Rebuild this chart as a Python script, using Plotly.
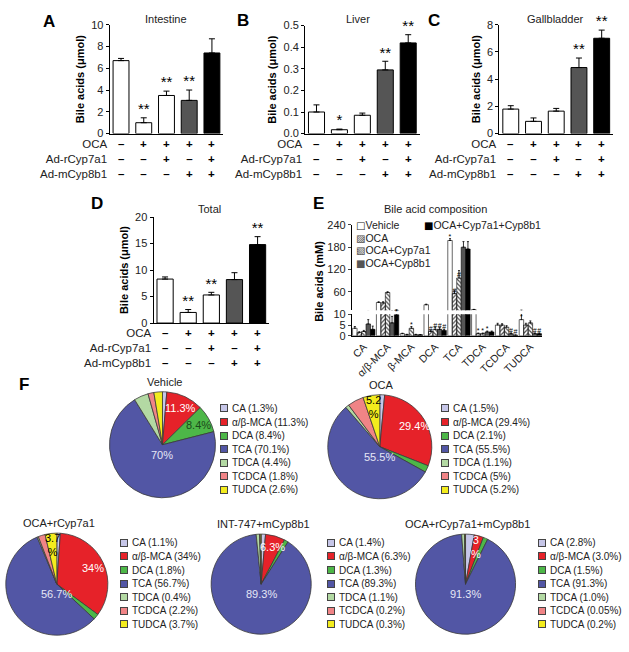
import math
import plotly.graph_objects as go

W, H = 629, 652
FONT = "Liberation Sans, Arial, sans-serif"

# ---------------- data ----------------
oca_row = ["–", "+", "+", "+", "+"]
cyp7a1_row = ["–", "–", "+", "–", "+"]
cyp8b1_row = ["–", "–", "–", "+", "+"]
row_labels = ["OCA", "Ad-rCyp7a1", "Ad-mCyp8b1"]

intestine_mean = [6.7, 1.0, 3.5, 3.05, 7.4]
intestine_err = [0.2, 0.45, 0.4, 0.95, 1.3]
intestine_sig = ["", "**", "**", "**", ""]

liver_mean = [0.10, 0.018, 0.085, 0.295, 0.42]
liver_err = [0.033, 0.003, 0.01, 0.04, 0.038]
liver_sig = ["", "*", "", "**", "**"]

gallbladder_mean = [1.8, 0.9, 1.65, 4.85, 7.0]
gallbladder_err = [0.25, 0.25, 0.2, 0.7, 0.6]
gallbladder_sig = ["", "", "", "**", "**"]

total_mean = [8.3, 2.0, 5.3, 8.2, 14.8]
total_err = [0.4, 0.55, 0.5, 1.3, 1.5]
total_sig = ["", "**", "**", "", "**"]

comp_groups = ["Vehicle", "OCA", "OCA+Cyp7a1", "OCA+Cyp8b1", "OCA+Cyp7a1+Cyp8b1"]
ba_species = ["CA", "α/β-MCA", "β-MCA", "DCA", "TCA", "TDCA", "TCDCA", "TUDCA"]
comp_vehicle = [3.5, 31, 1.0, 25, 198, 12, 5.0, 7.5]
comp_vehicle_err = [0.8, 2, 0.2, 1.5, 5, 0.5, 0.8, 3]
comp_vehicle_sig = ["", "", "", "", "*", "", "", "*"]
comp_oca = [1.5, 30, 0.5, 2.0, 55, 1.0, 5.0, 5.0]
comp_oca_err = [0.4, 3, 0.2, 0.6, 8, 0.3, 0.6, 0.8]
comp_oca_sig = ["", "", "", "#", "#", "*", "", ""]
comp_cyp7 = [2.0, 58, 3.5, 3.0, 97, 1.0, 4.0, 6.0]
comp_cyp7_err = [0.5, 2, 0.8, 1.0, 20, 0.3, 0.7, 0.9]
comp_cyp7_sig = ["", "", "*", "#", "#", "*", "", ""]
comp_cyp8 = [5.5, 6.0, 0.5, 3.0, 180, 1.8, 1.0, 1.0]
comp_cyp8_err = [2.0, 3.0, 0.2, 0.8, 15, 0.4, 0.3, 0.3]
comp_cyp8_sig = ["", "", "", "#", "", "*", "#", "#"]
comp_triple = [3.0, 9.8, 0.5, 2.5, 175, 1.8, 0.3, 1.0]
comp_triple_err = [1.5, 1.0, 0.1, 0.5, 20, 0.4, 0.1, 0.3]
comp_triple_sig = ["", "*", "", "#", "", "", "#", "#"]

pie_species = ["CA", "α/β-MCA", "DCA", "TCA", "TDCA", "TCDCA", "TUDCA"]
pie_titles = ["Vehicle", "OCA", "OCA+rCyp7a1", "INT-747+mCyp8b1", "OCA+rCyp7a1+mCyp8b1"]
pct_vehicle = [1.3, 11.3, 8.4, 70.1, 4.4, 1.8, 2.6]
pct_oca = [1.5, 29.4, 2.1, 55.5, 1.1, 5, 5.2]
pct_oca_cyp7 = [1.1, 34, 1.8, 56.7, 0.4, 2.2, 3.7]
pct_int_cyp8 = [1.4, 6.3, 1.3, 89.3, 1.1, 0.2, 0.3]
pct_triple = [2.8, 3.0, 1.5, 91.3, 1.0, 0.05, 0.2]
inlabel_vehicle = ["", "11.3%", "8.4%", "70%", "", "", ""]
inlabel_oca = ["", "29.4%", "", "55.5%", "", "", "5.2<br>%"]
inlabel_oca_cyp7 = ["", "34%", "", "56.7%", "", "", "3.7<br>%"]
inlabel_int_cyp8 = ["", "6.3%", "", "89.3%", "", "", ""]
inlabel_triple = ["", "3<br>%", "", "91.3%", "", "", ""]

# ---------------- styles ----------------
bar_fill = ["white", "white", "white", "#555555", "black"]
bar_shape = ["", "/", "\\", "", ""]
bar_psize = [5, 5, 3.5, 5, 5]
pie_colors = ["#c6c6e8", "#e62229", "#4db748", "#5256a5", "#b3d9a3", "#f08486", "#f3ec1d"]
pie_textcolors = ["black", "white", "#1a4a1a", "#e6e6f6", "black", "black", "black"]


def px(X):
    return X / W


def py(Y):
    return 1 - Y / H


def ydom(top, bottom):
    return [py(bottom), py(top)]


def note(X, Y, text, size=11, color="#222", xanchor="center", yanchor="middle", **kw):
    d = dict(x=px(X), y=py(Y), xref="paper", yref="paper", text=text, showarrow=False,
             xanchor=xanchor, yanchor=yanchor, font=dict(size=size, family=kw.pop("family", FONT), color=color))
    d.update(kw)
    return d


fig = go.Figure()
annotations = []

# ---------------- panels A-D ----------------
panels = [
    dict(ax="", mean=intestine_mean, err=intestine_err, sig=intestine_sig, xd=(108, 222), yd=(19, 130),
         rng=[0, 10], dt=2, fmt="", title="Intestine", tpos=(165, 13), letter="A", lpos=(47, 16)),
    dict(ax="2", mean=liver_mean, err=liver_err, sig=liver_sig, xd=(304, 419), yd=(20, 130),
         rng=[0, 0.5], dt=0.1, fmt=".1f", title="Liver", tpos=(357, 13), letter="B", lpos=(242, 15)),
    dict(ax="3", mean=gallbladder_mean, err=gallbladder_err, sig=gallbladder_sig, xd=(499, 613), yd=(19, 130),
         rng=[0, 8], dt=2, fmt="", title="Gallbladder", tpos=(555, 13), letter="C", lpos=(433, 15)),
    dict(ax="4", mean=total_mean, err=total_err, sig=total_sig, xd=(152, 268), yd=(215, 323),
         rng=[0, 20], dt=5, fmt="", title="Total", tpos=(208, 207), letter="D", lpos=(95, 201)),
]

cats = list(range(5))
sign_cols = [f"<b>{a}</b><br><b>{b}</b><br><b>{c}</b>" for a, b, c in zip(oca_row, cyp7a1_row, cyp8b1_row)]

layout_axes = {}
for p in panels:
    a = p["ax"]
    fig.add_trace(go.Bar(
        x=cats, y=p["mean"], width=0.7, xaxis="x" + a, yaxis="y" + a,
        marker=dict(color=bar_fill, line=dict(color="black", width=1),
                    pattern=dict(shape=bar_shape, fgcolor="#4a4a4a", size=bar_psize, solidity=0.35,
                                 fillmode="replace")),
        error_y=dict(type="data", array=p["err"], arrayminus=[0] * 5, symmetric=False,
                     color="black", thickness=1, width=3),
        showlegend=False, hoverinfo="skip"))
    fig.add_trace(go.Scatter(
        x=cats, y=[m + e for m, e in zip(p["mean"], p["err"])], text=p["sig"], mode="text",
        textposition="top center", textfont=dict(size=15, family=FONT, color="black"),
        xaxis="x" + a, yaxis="y" + a, cliponaxis=False, showlegend=False, hoverinfo="skip"))
    vals = []
    v = p["rng"][0]
    while v <= p["rng"][1] + 1e-9:
        vals.append(round(v, 3))
        v += p["dt"]
    layout_axes["xaxis" + a] = dict(
        domain=[px(p["xd"][0]), px(p["xd"][1])], range=[-0.5, 4.5], anchor="y" + a,
        showline=True, linecolor="black", linewidth=1, ticks="", showticklabels=False,
        showgrid=False, zeroline=False)
    layout_axes["yaxis" + a] = dict(
        domain=ydom(*p["yd"]), range=p["rng"], anchor="x" + a, showline=True, linecolor="black",
        linewidth=1, ticks="outside", ticklen=3, tickcolor="black", tickvals=vals, tickformat=p["fmt"],
        tickfont=dict(size=11, family=FONT, color="#222"), showgrid=False, zeroline=False,
        title=dict(text="<b>Bile acids (μmol)</b>", font=dict(size=11, family=FONT, color="black"),
                   standoff=4))
    # +/- treatment table under the bars, one column per bar (x in data units)
    for c, col in zip(cats, sign_cols):
        annotations.append(dict(x=c, xref="x" + a, y=py(p["yd"][1] + 2), yref="paper", text=col,
                                showarrow=False, xanchor="center", yanchor="top",
                                font=dict(size=11.5, family=FONT, color="black")))
    annotations.append(note(p["tpos"][0], p["tpos"][1], p["title"]))
    annotations.append(note(p["lpos"][0], p["lpos"][1], "<b>" + p["letter"] + "</b>", size=17, color="black"))
    annotations.append(note(p["xd"][0] - 1, p["yd"][1] + 2, "<br>".join(row_labels), size=11.5,
                            xanchor="right", yanchor="top", align="right"))

# ---------------- panel E ----------------
comp_series = [
    (comp_vehicle, comp_vehicle_err, comp_vehicle_sig), (comp_oca, comp_oca_err, comp_oca_sig),
    (comp_cyp7, comp_cyp7_err, comp_cyp7_sig), (comp_cyp8, comp_cyp8_err, comp_cyp8_sig),
    (comp_triple, comp_triple_err, comp_triple_sig)]
for yax, lower in [("y5", True), ("y6", False)]:
    for i, (vals_, errs_, sig_) in enumerate(comp_series):
        txt = [s if ((v < 10) == lower) else "" for s, v in zip(sig_, vals_)]
        fig.add_trace(go.Bar(
            x=ba_species, y=vals_, name=comp_groups[i], xaxis="x5", yaxis=yax,
            text=txt, textposition="outside", constraintext="none", cliponaxis=False,
            outsidetextfont=dict(size=7, family=FONT, color="black"),
            marker=dict(color=bar_fill[i], line=dict(color="black", width=0.6),
                        pattern=dict(shape=bar_shape[i], fgcolor="#4a4a4a", size=3, solidity=0.4,
                                     fillmode="replace")),
            error_y=dict(type="data", array=errs_, arrayminus=[0] * 8, symmetric=False,
                         color="black", thickness=0.8, width=1),
            showlegend=False, hoverinfo="skip"))

Exd = (351, 542)
layout_axes["xaxis5"] = dict(
    domain=[px(Exd[0]), px(Exd[1])], anchor="y5", showline=True, linecolor="black", linewidth=1,
    ticks="", tickangle=-45, tickfont=dict(size=10.5, family=FONT, color="#222"), showgrid=False,
    zeroline=False, categoryorder="array", categoryarray=ba_species)
layout_axes["yaxis5"] = dict(
    domain=ydom(314, 336), range=[0, 10], anchor="x5", showline=True, linecolor="black", linewidth=1,
    ticks="outside", ticklen=3, tickvals=[0, 5, 10], tickfont=dict(size=11, family=FONT, color="#222"),
    showgrid=False, zeroline=False)
layout_axes["yaxis6"] = dict(
    domain=ydom(223, 310), range=[10, 240], anchor="x5", showline=True, linecolor="black", linewidth=1,
    ticks="outside", ticklen=3, tickvals=[60, 120, 180, 240],
    tickfont=dict(size=11, family=FONT, color="#222"), showgrid=False, zeroline=False)

annotations.append(note(318, 280, "<b>Bile acids (mM)</b>", color="black", textangle=-90))
annotations.append(note(435, 207, "Bile acid composition"))
annotations.append(note(318, 201, "<b>E</b>", size=17, color="black"))

e_swatch = ["□", "▨", "▧", "■", "■"]
e_swatch_col = ["#222", "#444", "#444", "#555555", "black"]
e_pos = [(353, 223), (353, 236), (353, 249), (353, 262), (421, 223)]
for i, g in enumerate(comp_groups):
    annotations.append(note(e_pos[i][0], e_pos[i][1],
                            f"<span style='font-family:DejaVu Sans;font-size:10px;color:{e_swatch_col[i]}'>{e_swatch[i]}</span>{g}",
                            size=10.5, xanchor="left"))

# ---------------- panel F (pies) ----------------
pie_pcts = [pct_vehicle, pct_oca, pct_oca_cyp7, pct_int_cyp8, pct_triple]
pie_inlabels = [inlabel_vehicle, inlabel_oca, inlabel_oca_cyp7, inlabel_int_cyp8, inlabel_triple]
pie_geom = [  # center x, center y, radius, legend swatch centre x, legend first row y
    (161, 447, 54, 223, 410),
    (379, 449, 53, 444, 410),
    (55, 589, 52, 122, 547),
    (260, 589, 51, 330, 547),
    (465, 589, 51, 542, 547),
]
annotations.append(note(22, 386, "<b>F</b>", size=17, color="black"))
for k in range(5):
    cx, cy, r, lx, ly = pie_geom[k]
    vals_k = pie_pcts[k]
    fig.add_trace(go.Pie(
        labels=pie_species, values=vals_k, textinfo="none", sort=False, direction="clockwise",
        rotation=0, marker=dict(colors=pie_colors, line=dict(color="#3a3a3a", width=0.8)),
        domain=dict(x=[px(cx - r), px(cx + r)], y=ydom(cy - r, cy + r)),
        showlegend=False, hoverinfo="skip"))
    # slice labels placed from the data (mid-angle of each slice)
    total = sum(vals_k)
    cum = 0.0
    for j, v in enumerate(vals_k):
        mid = (cum + v / 2) / total * 2 * math.pi
        cum += v
        lab = pie_inlabels[k][j]
        if not lab:
            continue
        if v / total > 0.5:
            lx_, ly_ = cx, cy + 0.2 * r
        else:
            d = 0.77 * r
            lx_, ly_ = cx + d * math.sin(mid), cy - d * math.cos(mid)
        annotations.append(note(lx_, ly_, lab, color=pie_textcolors[j]))
    annotations.append(note(cx + 2, cy - r - 10, pie_titles[k]))
    for j, sp in enumerate(pie_species):
        yy = ly + j * 13.8
        annotations.append(note(lx, yy, " ", size=4, width=6, height=6, bgcolor=pie_colors[j],
                                bordercolor="#444", borderwidth=1, borderpad=0))
        annotations.append(note(lx + 6, yy, f"{sp} ({vals_k[j]}%)", size=10, xanchor="left"))

fig.update_layout(
    width=W, height=H, margin=dict(l=0, r=0, t=0, b=0), paper_bgcolor="white", plot_bgcolor="white",
    bargap=0.06, bargroupgap=0, barmode="group", showlegend=False, annotations=annotations,
    font=dict(family=FONT, color="#222"), **layout_axes)

fig.write_html("out.html", config={"displayModeBar": False},
               post_script="document.body.style.margin='0';")
